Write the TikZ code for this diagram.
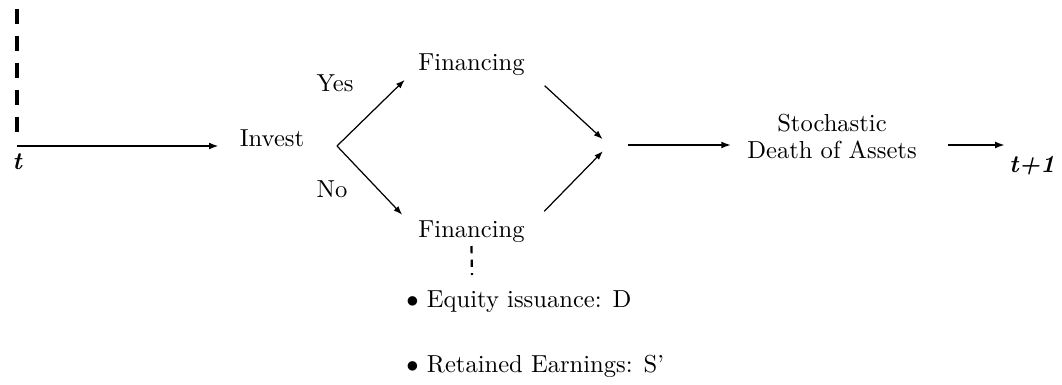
\documentclass[tikz,border=0pt]{standalone}
\usepackage{tikz}
\usetikzlibrary{positioning,arrows.meta,calc}
\tikzset{
    lbl/.style={inner sep=0pt, anchor=base},
    fin/.style={inner xsep=5pt, inner ysep=1pt, anchor=base},
    listitem/.style={inner sep=0pt, anchor=base west},
    mainarrow/.style={-{Latex[length=4pt,width=2.8pt]}, line width=0.8pt},
    branch/.style={-{Latex[length=3.6pt,width=2.6pt]}, line width=0.5pt},
    timeline/.style={line width=1.3pt, dash pattern=on 6pt off 5pt},
    listline/.style={line width=0.9pt, dash pattern=on 3pt off 2.5pt}
}
\begin{document}
\begin{tikzpicture}[x=0.01429cm, y=-0.01429cm]
\useasboundingbox (0,0) rectangle (1062,385);
\coordinate (ttop) at (17,9);
\coordinate (tstart) at (17,146);
\node[lbl] (t) at (17,170) {\bfseries\itshape t};
\node[anchor=base] (invest) at (272,147) {Invest};
\coordinate (fork) at (337,146);
\node[lbl] (yes) at (335,92) {Yes};
\node[lbl] (no) at (332,198) {No};
\node[fin] (fintop) at (471.5,71) {Financing};
\node[fin] (finbot) at (471.5,238) {Financing};
\coordinate (merge) at (609,145);
\node[align=center] (death) at (832,136.5) {Stochastic\\[-1.4pt]Death of Assets};
\coordinate (tend) at (1005,145);
\node[lbl] (tnext) at (1032,173) {\bfseries\itshape t+1};
\coordinate (listtop) at (472,275);
\node[listitem] (equity) at (406,308) {$\bullet$ Equity issuance: D};
\node[listitem] (retained) at (406,373) {$\bullet$ Retained Earnings: S'};
\draw[timeline, shorten >=5.6pt] (ttop) -- (tstart);
\draw[mainarrow, shorten >=5pt] (tstart) -- (tstart -| invest.west);
\draw[branch, shorten >=0.5pt] (fork) -- (fintop.south west);
\draw[branch, shorten >=2pt] (fork) -- (finbot.north west);
\draw[branch, shorten <=4pt, shorten >=3.5pt] (fintop.south east) -- (merge);
\draw[branch, shorten <=4pt, shorten >=3.5pt] (finbot.north east) -- (merge);
\draw[mainarrow, shorten <=7.7pt, shorten >=3pt] (merge) -- (merge -| death.west);
\draw[mainarrow, shorten <=9.3pt] (death.east |- tend) -- (tend);
\draw[listline] (finbot.south) -- (listtop);
\end{tikzpicture}
\end{document}
